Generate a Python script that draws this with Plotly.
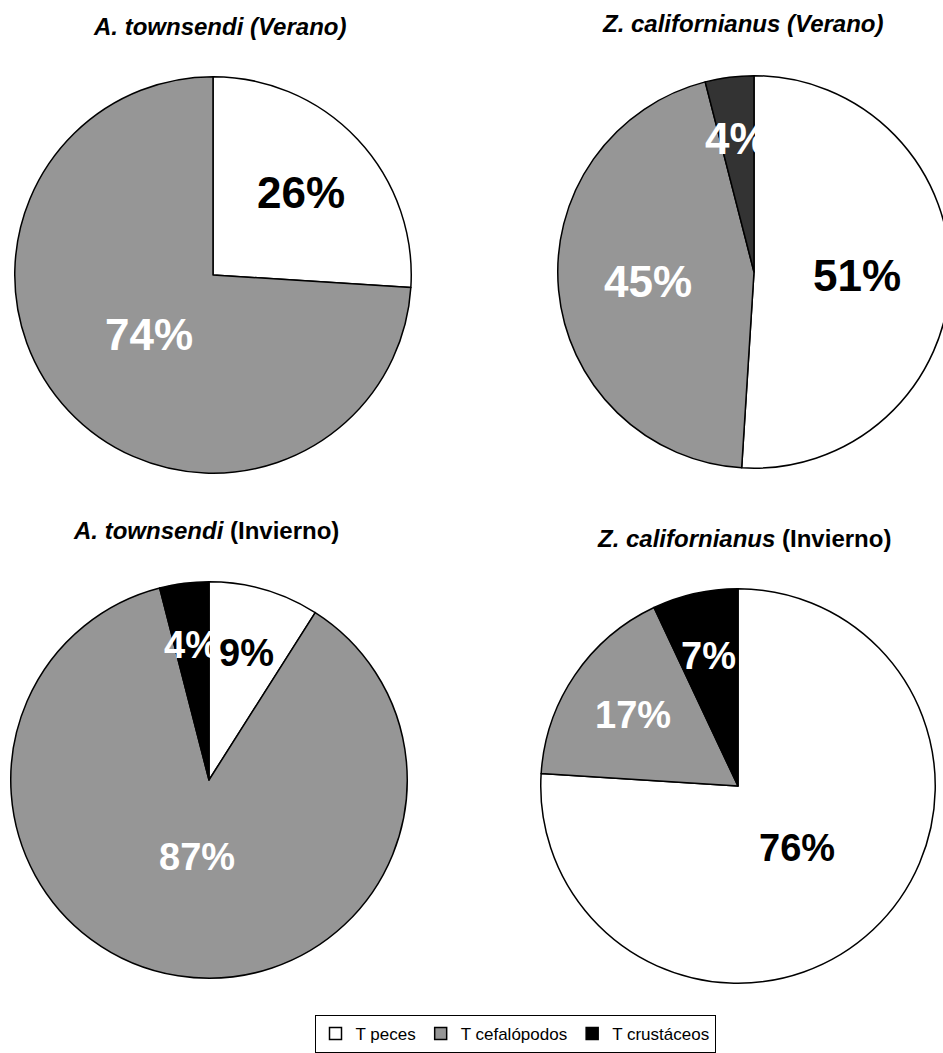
import math
import plotly.graph_objects as go

# ---- data ----
categories = ["T peces", "T cefalópodos", "T crustáceos"]

at_verano_labels = ["T peces", "T cefalópodos"]
at_verano_values = [26, 74]

zc_verano_labels = ["T peces", "T cefalópodos", "T crustáceos"]
zc_verano_values = [51, 45, 4]

at_invierno_labels = ["T peces", "T cefalópodos", "T crustáceos"]
at_invierno_values = [9, 87, 4]

zc_invierno_labels = ["T peces", "T cefalópodos", "T crustáceos"]
zc_invierno_values = [76, 17, 7]

titles = [
    "<b><i>A. townsendi (Verano)</i></b>",
    "<b><i>Z. californianus (Verano)</i></b>",
    "<b><i>A. townsendi</i> (Invierno)</b>",
    "<b><i>Z. californianus</i> (Invierno)</b>",
]

# ---- styling / layout ----
W, H = 960, 1053
FONT = "Liberation Sans, Arial, sans-serif"
color_map = {"T peces": "#ffffff", "T cefalópodos": "#969696", "T crustáceos": "#000000"}
text_color_map = {"T peces": "#000000", "T cefalópodos": "#ffffff", "T crustáceos": "#ffffff"}

# pie geometry in pixels (center x, center y, radius), title position, label size
pies = [
    dict(labels=at_verano_labels, values=at_verano_values, cx=213, cy=276, r=199,
         title=titles[0], tx=219, ty=27, dark=None, fs=44),
    dict(labels=at_invierno_labels, values=at_invierno_values, cx=209, cy=783, r=199,
         title=titles[2], tx=206, ty=533, dark=None, fs=38),
    dict(labels=zc_invierno_labels, values=zc_invierno_values, cx=738, cy=789, r=198,
         title=titles[3], tx=744, ty=541, dark=None, fs=38),
    dict(labels=zc_verano_labels, values=zc_verano_values, cx=754, cy=273, r=197,
         title=titles[1], tx=743, ty=24, dark="#333333", fs=44),
]

fig = go.Figure()
annotations = []
for p in pies:
    cols = [color_map[l] for l in p["labels"]]
    if p["dark"]:
        cols = [p["dark"] if l == "T crustáceos" else c for l, c in zip(p["labels"], cols)]
    fig.add_trace(go.Pie(
        labels=p["labels"], values=p["values"], sort=False, direction="clockwise",
        rotation=0, textinfo="none", hoverinfo="label+percent",
        marker=dict(colors=cols, line=dict(color="#000000", width=1.5)),
        domain=dict(x=[(p["cx"] - p["r"]) / W, (p["cx"] + p["r"]) / W],
                    y=[1 - (p["cy"] + p["r"]) / H, 1 - (p["cy"] - p["r"]) / H]),
    ))
    total = sum(p["values"])
    cum = 0
    for lab, v in zip(p["labels"], p["values"]):
        frac = v / total
        mid = (cum + frac / 2) * 2 * math.pi
        cum += frac
        k = 0.7 - 0.35 * frac
        px = p["cx"] + p["r"] * k * math.sin(mid)
        py = p["cy"] - p["r"] * k * math.cos(mid)
        annotations.append(dict(
            x=px / W, y=1 - py / H, xref="paper", yref="paper", showarrow=False,
            text=f"<b>{v}%</b>", font=dict(family=FONT, size=p["fs"], color=text_color_map[lab]),
            xanchor="center", yanchor="middle"))
    annotations.append(dict(
        x=p["tx"] / W, y=1 - p["ty"] / H, xref="paper", yref="paper", showarrow=False,
        text=p["title"], font=dict(family=FONT, size=24, color="#000000"),
        xanchor="center", yanchor="middle"))

fig.update_layout(
    width=W, height=H, autosize=False,
    margin=dict(l=0, r=0, t=0, b=0),
    paper_bgcolor="#ffffff", plot_bgcolor="#ffffff",
    font=dict(family=FONT, color="#000000"),
    annotations=annotations,
    showlegend=True,
    legend=dict(orientation="h", x=515 / W, xanchor="center", y=1 - 1019 / H, yanchor="top",
                bordercolor="#000000", borderwidth=1, bgcolor="#ffffff",
                font=dict(family=FONT, size=17, color="#000000"),
                itemwidth=30, traceorder="normal"),
)

fig.write_html(
    "out.html",
    config={"displayModeBar": False},
    post_script="document.body.style.margin='0';document.body.style.overflow='hidden';"
                "document.documentElement.style.overflow='hidden';",
)
